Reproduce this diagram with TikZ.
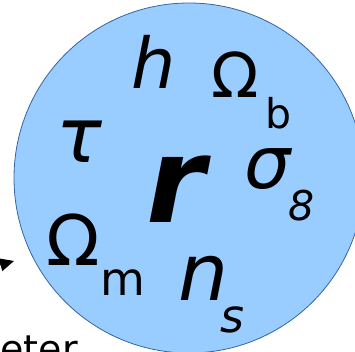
\documentclass[tikz,border=0pt]{standalone}
\usepackage{fontspec}
\setmainfont{DejaVu Sans}
\usetikzlibrary{arrows.meta}
\definecolor{ballfill}{HTML}{99CCFF}
\definecolor{balledge}{HTML}{3465A4}
\newcommand{\fs}[1]{\fontsize{#1bp}{#1bp}\selectfont}
\begin{document}
\begin{tikzpicture}[x=1bp,y=-1bp,
  sym/.style={inner sep=0pt,anchor=base west,font=\itshape},
  sub/.style={inner sep=0pt,anchor=base west}]
\useasboundingbox (0,0) rectangle (355,352);
\clip (0,0) rectangle (355,352);
\node[circle,draw=balledge,fill=ballfill,line width=0.8bp,minimum size=350bp,inner sep=0pt] (ball) at (189,178) {};
% symbols
\node[sym,font=\itshape\fs{70}] (h) at (131,88) {h};
\node[sub,font=\fs{62}] (Ob) at (211,97) {Ω};
\node[sub,font=\fs{41}] (b) at (265,128) {b};
\node[sym,font=\itshape\fs{76}] (tau) at (56,162) {τ};
\node[sym,font=\bfseries\itshape\fs{119}] (r) at (146,222) {r};
\node[sym,font=\itshape\fs{73}] (sigma) at (244,188) {σ};
\node[sym,font=\itshape\fs{41}] (eight) at (288,220) {8};
\node[sub,font=\fs{70}] (Om) at (46,265) {Ω};
\node[sub,font=\fs{46}] (m) at (100,295) {m};
\node[sym,font=\itshape\fs{79}] (n) at (178,300) {n};
\node[sym,font=\itshape\fs{46}] (s) at (220,332) {s};
% partial label and arrow
\node[inner sep=0pt,anchor=base east,font=\fs{38}] (lbl) at (78,362) {eter};
\coordinate (tip) at (14,261);
\coordinate (tail) at (-40,276);
\draw[line width=1bp,-{Triangle[length=14bp,width=13bp]}] (tail) -- (tip);
\end{tikzpicture}
\end{document}
